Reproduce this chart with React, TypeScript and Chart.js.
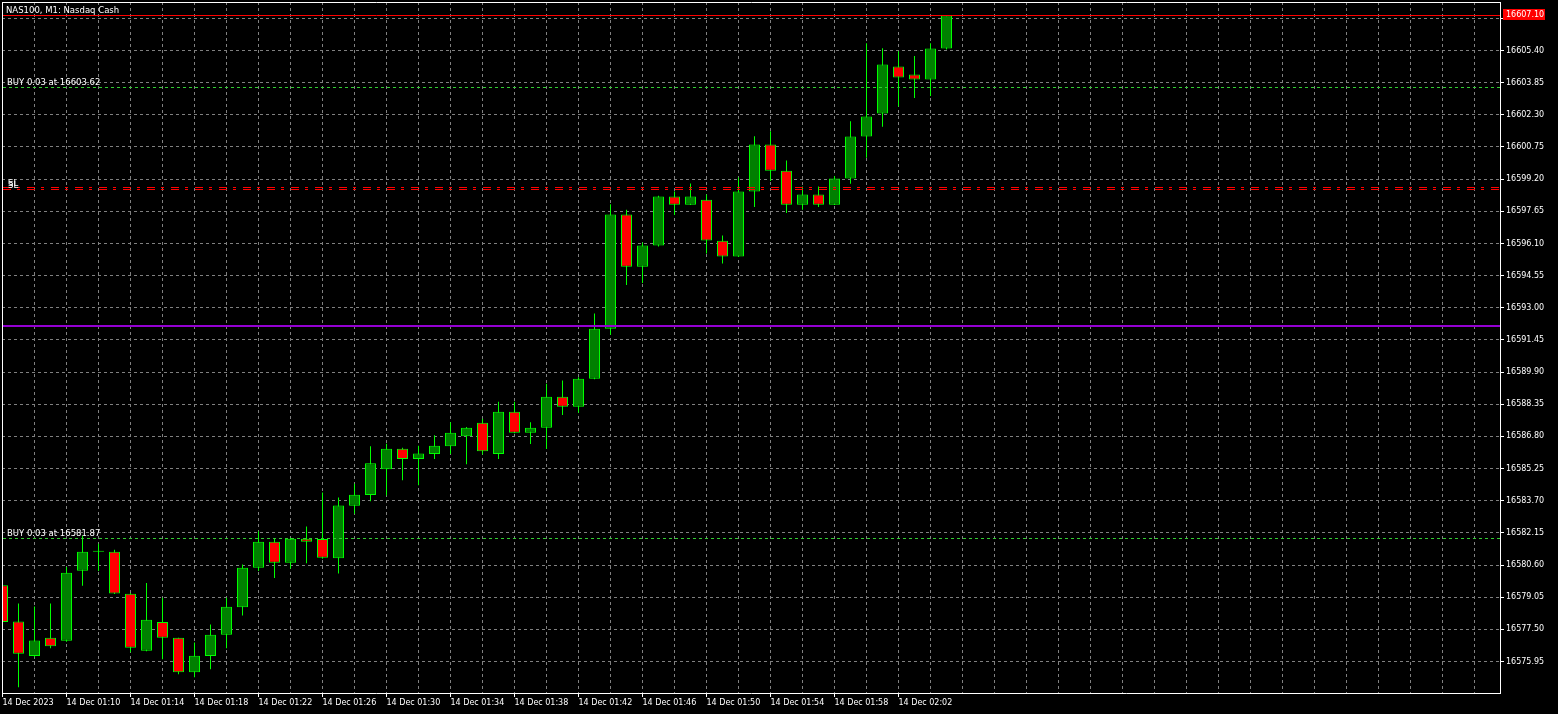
import React, { useEffect, useRef } from 'react';
import { Chart, registerables } from 'chart.js';

Chart.register(...registerables);

const FONT = 'DejaVu Sans';

// Minute candles, 14 Dec 2023 01:06 .. 02:05 (index 0 = 01:06)
const opens = [
  16579.62, 16577.88, 16576.21, 16577.09, 16576.95, 16580.32, 16581.24, 16581.24, 16579.21, 16576.47,
  16577.86, 16577.09, 16575.43, 16576.21, 16577.24, 16578.57, 16580.47, 16581.72, 16580.71, 16581.87,
  16581.85, 16580.93, 16583.46, 16583.97, 16585.22, 16586.21, 16585.71, 16585.95, 16586.33, 16586.81,
  16587.46, 16585.95, 16587.99, 16586.98, 16587.22, 16588.71, 16588.23, 16589.58, 16591.99, 16597.49,
  16594.98, 16596.00, 16598.36, 16597.97, 16598.21, 16596.23, 16595.47, 16598.60, 16600.87, 16599.61,
  16597.97, 16598.46, 16597.97, 16599.23, 16601.25, 16602.36, 16604.63, 16604.24, 16604.00, 16605.50,
];
const highs = [
  16579.75, 16578.75, 16578.60, 16578.75, 16580.50, 16582.01, 16581.63, 16581.34, 16579.25, 16579.73,
  16579.02, 16577.10, 16576.87, 16577.73, 16579.02, 16580.63, 16582.23, 16581.85, 16581.90, 16582.46,
  16584.10, 16583.86, 16584.52, 16586.32, 16586.45, 16586.25, 16586.35, 16586.85, 16587.48, 16587.25,
  16587.65, 16588.47, 16588.47, 16587.48, 16589.34, 16589.50, 16589.65, 16592.72, 16597.99, 16597.73,
  16596.14, 16598.40, 16598.60, 16598.99, 16598.46, 16596.48, 16599.28, 16601.27, 16601.51, 16600.10,
  16598.84, 16598.84, 16599.35, 16601.99, 16605.75, 16605.51, 16605.37, 16605.13, 16605.75, 16607.10,
];
const lows = [
  16577.70, 16574.71, 16576.15, 16576.59, 16576.90, 16579.60, 16580.31, 16579.20, 16576.40, 16576.45,
  16576.06, 16575.34, 16575.19, 16575.58, 16576.59, 16578.17, 16580.31, 16579.97, 16580.42, 16580.69,
  16580.90, 16580.19, 16583.07, 16583.68, 16583.95, 16584.69, 16584.45, 16585.71, 16585.95, 16585.46,
  16585.93, 16585.71, 16586.95, 16586.43, 16586.19, 16587.83, 16587.94, 16589.55, 16591.70, 16594.10,
  16594.19, 16595.95, 16597.47, 16597.95, 16595.61, 16595.13, 16595.45, 16597.86, 16599.11, 16597.57,
  16597.73, 16597.86, 16597.95, 16598.98, 16600.23, 16601.72, 16602.70, 16603.11, 16603.21, 16605.45,
];
const closes = [
  16577.85, 16576.32, 16576.96, 16576.69, 16580.23, 16581.24, 16581.29, 16579.23, 16576.61, 16577.96,
  16577.09, 16575.43, 16576.23, 16577.24, 16578.59, 16580.47, 16581.72, 16580.71, 16581.87, 16581.72,
  16580.95, 16583.47, 16583.99, 16585.50, 16586.21, 16585.71, 16585.97, 16586.35, 16586.98, 16587.22,
  16586.09, 16587.99, 16586.98, 16587.22, 16588.71, 16588.23, 16589.58, 16591.99, 16597.49, 16594.98,
  16596.00, 16598.36, 16597.97, 16598.36, 16596.24, 16595.47, 16598.60, 16600.87, 16599.61, 16597.97,
  16598.46, 16597.97, 16599.23, 16601.25, 16602.22, 16604.72, 16604.10, 16604.00, 16605.50, 16607.10,
];

// x-axis labels, one every 4 candles starting at index 0
const timeLabels = [
  '14 Dec 2023', '14 Dec 01:10', '14 Dec 01:14', '14 Dec 01:18', '14 Dec 01:22',
  '14 Dec 01:26', '14 Dec 01:30', '14 Dec 01:34', '14 Dec 01:38', '14 Dec 01:42',
  '14 Dec 01:46', '14 Dec 01:50', '14 Dec 01:54', '14 Dec 01:58', '14 Dec 02:02',
];

// price axis ticks
const priceTicks = [
  16575.95, 16577.50, 16579.05, 16580.60, 16582.15, 16583.70, 16585.25, 16586.80, 16588.35,
  16589.90, 16591.45, 16593.00, 16594.55, 16596.10, 16597.65, 16599.20, 16600.75, 16602.30,
  16603.85, 16605.40, 16606.95,
];

const chartTitle = 'NAS100, M1: Nasdaq Cash';
const currentPrice = 16607.10;
const buyPrices = [16603.62, 16581.87];
const buyTexts = ['BUY 0.03 at 16603.62', 'BUY 0.03 at 16581.87'];
const stopLossPrices = [16598.78, 16598.70];
const stopLossText = 'SL';
const levelPrice = 16592.11;

const X_MIN = -0.03125;
const X_MAX = 93.59375;
const Y_MIN = 16574.432;
const Y_MAX = 16607.738;

const GRID = '#808080';
const WHITE = '#ffffff';
const LIME = '#00ff00';

function xLabel(v: number): string {
  if (v % 4 !== 0) return '';
  const k = v / 4;
  return k < timeLabels.length ? timeLabels[k] : '';
}

const overlayPlugin = {
  id: 'mtOverlay',
  afterDatasetsDraw(chart: any) {
    const { ctx, chartArea, scales } = chart;
    const y = scales.y;
    const py = (v: number) => Math.round(y.getPixelForValue(v) - 0.5) + 0.5;
    ctx.save();
    ctx.beginPath();
    ctx.rect(chartArea.left, chartArea.top, chartArea.right - chartArea.left, chartArea.bottom - chartArea.top);
    ctx.clip();

    // purple level
    ctx.strokeStyle = '#9400d3';
    ctx.lineWidth = 2;
    ctx.setLineDash([]);
    const pp = Math.round(y.getPixelForValue(levelPrice));
    ctx.beginPath();
    ctx.moveTo(chartArea.left, pp);
    ctx.lineTo(chartArea.right, pp);
    ctx.stroke();

    // stop loss lines
    ctx.lineWidth = 1;
    ctx.strokeStyle = '#ff0000';
    ctx.setLineDash([8, 6, 3, 7]);
    stopLossPrices.forEach((p) => {
      const yy = py(p);
      ctx.beginPath();
      ctx.moveTo(chartArea.left + 1, yy);
      ctx.lineTo(chartArea.right, yy);
      ctx.stroke();
    });

    // buy order lines
    ctx.strokeStyle = '#32cd32';
    ctx.setLineDash([3, 3]);
    buyPrices.forEach((p) => {
      const yy = py(p);
      ctx.beginPath();
      ctx.moveTo(chartArea.left + 1, yy);
      ctx.lineTo(chartArea.right, yy);
      ctx.stroke();
    });

    // current price line
    ctx.setLineDash([]);
    ctx.strokeStyle = '#ff0000';
    const cp = py(currentPrice);
    ctx.beginPath();
    ctx.moveTo(chartArea.left, cp);
    ctx.lineTo(chartArea.right, cp);
    ctx.stroke();

    // texts
    ctx.fillStyle = WHITE;
    ctx.font = `8.5px "${FONT}"`;
    ctx.textAlign = 'left';
    ctx.textBaseline = 'alphabetic';
    buyPrices.forEach((p, i) => {
      ctx.fillText(buyTexts[i], 7, py(p) - 3);
    });
    stopLossPrices.forEach((p) => {
      ctx.fillText(stopLossText, 8, py(p) - 2);
    });
    ctx.fillText(chartTitle, 6, 12.5);
    ctx.restore();
  },
  afterDraw(chart: any) {
    const { ctx, chartArea, scales } = chart;
    const y = scales.y;
    ctx.save();
    // frame top & left
    ctx.strokeStyle = WHITE;
    ctx.lineWidth = 1;
    ctx.setLineDash([]);
    ctx.beginPath();
    ctx.moveTo(chartArea.left, chartArea.top + 0.5);
    ctx.lineTo(chartArea.right + 1, chartArea.top + 0.5);
    ctx.moveTo(chartArea.left + 0.5, chartArea.top);
    ctx.lineTo(chartArea.left + 0.5, chartArea.bottom + 1);
    ctx.stroke();

    // current price box
    const cp = Math.round(y.getPixelForValue(currentPrice));
    ctx.fillStyle = '#ff0000';
    ctx.fillRect(chartArea.right + 3, cp - 6, 42, 11);
    ctx.fillStyle = WHITE;
    ctx.font = `8px "${FONT}"`;
    ctx.textAlign = 'left';
    ctx.textBaseline = 'middle';
    ctx.fillText(currentPrice.toFixed(2), chartArea.right + 6, cp);
    ctx.restore();
  },
};

export default function App() {
  const canvasRef = useRef<HTMLCanvasElement | null>(null);

  useEffect(() => {
    const canvas = canvasRef.current;
    if (!canvas) return;
    const idx = opens.map((_, i) => i);
    const bodies = idx.map((i) => ({ x: i, y: [opens[i], closes[i]] }));
    const wicks = idx.map((i) => ({ x: i, y: [lows[i], highs[i]] }));
    const bodyColors = idx.map((i) => (closes[i] >= opens[i] ? '#008000' : '#ff0000'));
    const xTickValues: number[] = [];
    for (let v = 0; v <= 92; v += 2) xTickValues.push(v);

    const chart = new Chart(canvas, {
      type: 'bar',
      data: {
        datasets: [
          {
            label: 'body',
            data: bodies as any,
            backgroundColor: bodyColors,
            borderColor: LIME,
            borderWidth: 1,
            borderSkipped: false,
            barThickness: 11,
            grouped: false,
            order: 0,
            inflateAmount: 0,
          } as any,
          {
            label: 'wick',
            data: wicks as any,
            backgroundColor: LIME,
            borderWidth: 0,
            barThickness: 1,
            grouped: false,
            order: 1,
            inflateAmount: 0,
          } as any,
        ],
      },
      options: {
        animation: false,
        responsive: false,
        devicePixelRatio: 1,
        events: [],
        layout: { padding: { left: 2, top: 2, right: 0, bottom: 0 } },
        plugins: {
          legend: { display: false },
          tooltip: { enabled: false },
          title: { display: false },
        },
        scales: {
          x: {
            type: 'linear',
            position: 'bottom',
            min: X_MIN,
            max: X_MAX,
            offset: false,
            afterBuildTicks: (s: any) => {
              s.ticks = xTickValues.map((v) => ({ value: v }));
            },
            afterFit: (s: any) => {
              s.height = 21;
              s.paddingLeft = 0;
              s.paddingRight = 0;
              s.paddingTop = 0;
              s.paddingBottom = 0;
            },
            grid: {
              offset: false,
              color: GRID,
              lineWidth: 1,
              drawTicks: true,
              tickLength: 4,
              tickWidth: 1,
              tickColor: (c: any) => (c.tick && xLabel(c.tick.value) !== '' ? WHITE : 'rgba(0,0,0,0)'),
            },
            border: { display: true, color: WHITE, width: 1, dash: [3, 3] },
            ticks: {
              autoSkip: false,
              maxRotation: 0,
              minRotation: 0,
              align: 'start',
              padding: 1,
              color: WHITE,
              font: { family: FONT, size: 8 },
              callback: (v: any) => xLabel(Number(v)),
            },
          } as any,
          y: {
            type: 'linear',
            position: 'right',
            min: Y_MIN,
            max: Y_MAX,
            afterBuildTicks: (s: any) => {
              s.ticks = priceTicks.map((v) => ({ value: v }));
            },
            afterFit: (s: any) => {
              s.width = 58;
              s.paddingLeft = 0;
              s.paddingRight = 0;
              s.paddingTop = 0;
              s.paddingBottom = 0;
            },
            grid: {
              color: GRID,
              lineWidth: 1,
              drawTicks: true,
              tickLength: 4,
              tickWidth: 1,
              tickColor: WHITE,
            },
            border: { display: true, color: WHITE, width: 1, dash: [3, 3] },
            ticks: {
              autoSkip: false,
              padding: 2,
              color: WHITE,
              font: { family: FONT, size: 8 },
              callback: (v: any) => Number(v).toFixed(2),
            },
          } as any,
        },
      },
      plugins: [overlayPlugin],
    });
    return () => chart.destroy();
  }, []);

  return (
    <div style={{ position: 'fixed', left: 0, top: 0, width: 1558, height: 714, background: '#000' }}>
      <canvas ref={canvasRef} width={1558} height={714} style={{ display: 'block', width: 1558, height: 714 }} />
    </div>
  );
}
